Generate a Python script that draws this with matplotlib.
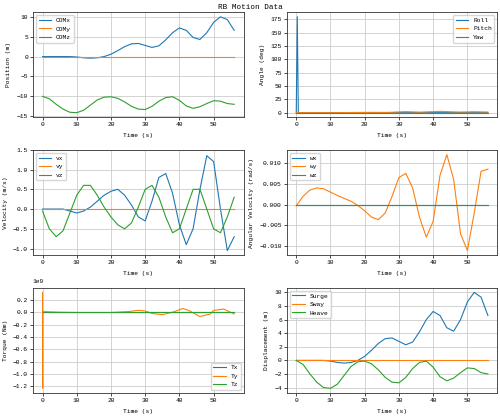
import matplotlib
matplotlib.use("Agg")
import matplotlib.pyplot as plt
import numpy as np

plt.rcParams['font.family'] = ['Liberation Mono', 'DejaVu Sans']
plt.rcParams['font.size'] = 4.5

t = list(range(0, 57, 2))
com_x = [0, 0, 0, 0, 0, -0.1, -0.3, -0.4, -0.3, 0, 0.6, 1.5, 2.5, 3.2, 3.3, 2.8, 2.3, 2.7, 4.2, 6.0, 7.2, 6.6, 4.8, 4.3, 6.0, 8.6, 10.0, 9.3, 6.6]
com_y = [0]*29
com_z = [-10, -10.6, -12, -13.2, -14, -14.1, -13.5, -12.2, -10.9, -10.2, -10.1, -10.5, -11.4, -12.5, -13.2, -13.3, -12.5, -11.2, -10.3, -10.1, -11, -12.4, -13, -12.6, -11.8, -11.1, -11.2, -11.8, -12]

ang_t = [0, 0.3, 0.6] + t[1:]
roll = [0, 180, 0] + [0]*28
pitch = [0, 0, 0] + [0, 0, 0, 0, 0, 0.1, 0.2, 0.3, 0.4, 0.5, 0.6, 0.6, 0.5, 0.8, 1.5, 2.0, 1.5, 1.0, 1.5, 2.0, 2.5, 2.0, 1.5, 1.2, 1.5, 1.8, 1.5, 1.2]
yaw = [0]*31

vx = [0, 0, 0, 0, -0.05, -0.1, -0.05, 0.05, 0.2, 0.35, 0.45, 0.5, 0.35, 0.1, -0.2, -0.3, 0.2, 0.8, 0.9, 0.4, -0.4, -0.9, -0.5, 0.5, 1.35, 1.2, 0.0, -1.05, -0.7]
vy = [0]*29
vz = [-0.05, -0.5, -0.7, -0.55, -0.1, 0.35, 0.6, 0.6, 0.35, 0.05, -0.2, -0.4, -0.5, -0.35, 0.05, 0.5, 0.6, 0.3, -0.2, -0.6, -0.5, 0.0, 0.5, 0.5, 0.0, -0.5, -0.6, -0.2, 0.3]

wx = [0]*29
wy = [-0.0003, 0.002, 0.0035, 0.004, 0.0038, 0.003, 0.0022, 0.0015, 0.0008, -0.0002, -0.0015, -0.003, -0.0036, -0.002, 0.002, 0.0065, 0.0075, 0.004, -0.003, -0.0078, -0.004, 0.007, 0.012, 0.006, -0.007, -0.011, -0.002, 0.008, 0.0085]
wz = [0]*29

tq_t = [0, 0.05, 0.1, 0.2, 5, 10, 15, 20, 25, 28, 30, 32, 35, 38, 41, 43, 46, 49, 50, 53, 56]
tx = [0]*21
ty = [0.32e9, -1.23e9, 0.02e9, 0.01e9, 0.0, -0.005e9, -0.005e9, -0.005e9, 0.01e9, 0.03e9, 0.02e9, -0.02e9, -0.04e9, 0.0, 0.06e9, 0.02e9, -0.07e9, -0.03e9, 0.03e9, 0.05e9, -0.03e9]
tz = [0]*21

surge = com_x
sway = com_y
heave = [z + 10 for z in com_z]

fig, axs = plt.subplots(3, 2, figsize=(5, 4.16), dpi=100)
fig.suptitle("RB Motion Data", fontsize=5.5, y=0.99)

def style(ax, ylabel):
    ax.grid(True, color='#cccccc', linewidth=0.6)
    ax.set_xlabel("Time (s)")
    ax.set_ylabel(ylabel)
    ax.tick_params(length=2, width=0.5, pad=1.5)
    for s in ax.spines.values():
        s.set_linewidth(0.6)
        s.set_color('#333333')
    ax.set_xticks([0, 10, 20, 30, 40, 50])

ax = axs[0, 0]
ax.plot(t, com_x, label='COMx', lw=0.8)
ax.plot(t, com_y, label='COMy', lw=0.8)
ax.plot(t, com_z, label='COMz', lw=0.8)
ax.set_yticks(range(-15, 11, 5))
style(ax, "Position (m)"); ax.legend(loc='upper left')

ax = axs[0, 1]
ax.plot(ang_t, roll, label='Roll', lw=0.8)
ax.plot(ang_t, pitch, label='Pitch', lw=0.8)
ax.plot(ang_t, yaw, label='Yaw', lw=0.8)
ax.set_yticks(range(0, 176, 25))
style(ax, "Angle (deg)"); ax.legend(loc='upper right')

ax = axs[1, 0]
ax.plot(t, vx, label='vx', lw=0.8)
ax.plot(t, vy, label='vy', lw=0.8)
ax.plot(t, vz, label='vz', lw=0.8)
ax.set_yticks([-1.0, -0.5, 0.0, 0.5, 1.0, 1.5])
style(ax, "Velocity (m/s)"); ax.legend(loc='upper left')

ax = axs[1, 1]
ax.plot(t, wx, label='wx', lw=0.8)
ax.plot(t, wy, label='wy', lw=0.8)
ax.plot(t, wz, label='wz', lw=0.8)
ax.set_yticks([-0.01, -0.005, 0.0, 0.005, 0.01])
ax.set_yticklabels(['−0.010', '−0.005', '0.000', '0.005', '0.010'])
style(ax, "Angular Velocity (rad/s)"); ax.legend(loc='upper left')

ax = axs[2, 0]
ax.plot(tq_t, tx, label='Tx', lw=0.8)
ax.plot(tq_t, ty, label='Ty', lw=0.8)
ax.plot(tq_t, tz, label='Tz', lw=0.8)
ax.set_yticks(np.arange(-1.2e9, 0.3e9, 0.2e9))
style(ax, "Torque (Nm)"); ax.legend(loc='lower right')

ax = axs[2, 1]
ax.plot(t, surge, label='Surge', lw=0.8)
ax.plot(t, sway, label='Sway', lw=0.8)
ax.plot(t, heave, label='Heave', lw=0.8)
style(ax, "Displacement (m)"); ax.legend(loc='upper left')

fig.tight_layout(pad=0.4, h_pad=0.6, w_pad=0.8)
fig.savefig("out.png", dpi=100)
